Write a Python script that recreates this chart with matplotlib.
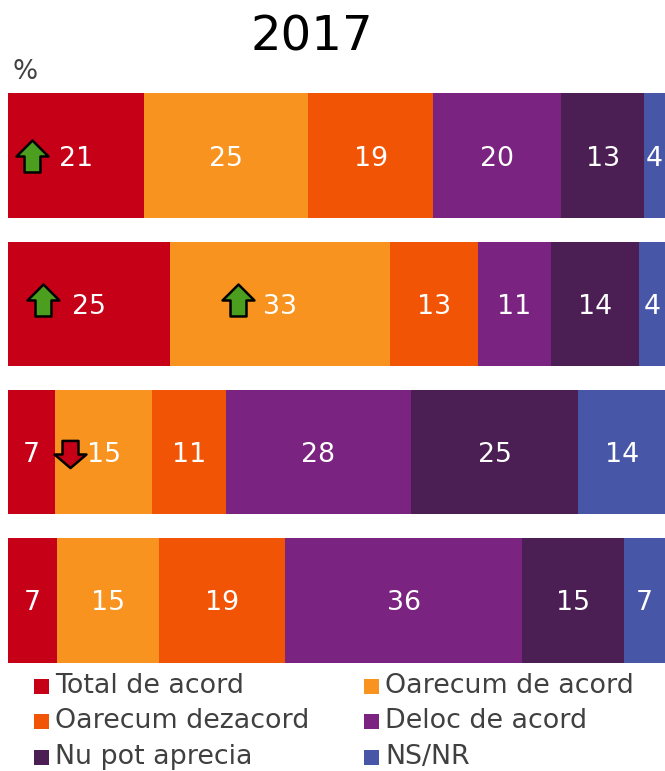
import numpy as np
import matplotlib
matplotlib.use("Agg")
import matplotlib.pyplot as plt
from matplotlib.path import Path
from matplotlib.transforms import offset_copy

series_names = ["Total de acord", "Oarecum de acord", "Oarecum dezacord",
                "Deloc de acord", "Nu pot aprecia", "NS/NR"]
colors = ["#C50017", "#F7931E", "#F25406", "#7B2380", "#4C1F54", "#4756A6"]
# segment lengths (%)
total_acord = [20.7, 24.7, 7.2, 7.5]
oarecum_acord = [25.0, 33.5, 14.8, 15.5]
oarecum_dezacord = [19.0, 13.4, 11.2, 19.2]
deloc_acord = [19.5, 11.1, 28.2, 36.1]
nu_pot = [12.6, 13.4, 25.5, 15.5]
ns_nr = [3.2, 4.0, 13.2, 6.2]
# printed labels
lab_total_acord = [21, 25, 7, 7]
lab_oarecum_acord = [25, 33, 15, 15]
lab_oarecum_dezacord = [19, 13, 11, 19]
lab_deloc_acord = [20, 11, 28, 36]
lab_nu_pot = [13, 14, 25, 15]
lab_ns_nr = [4, 4, 14, 7]
title = "2017"
unit = "%"
# (row, series, direction)
arrow_marks = [(0, 0, 1), (1, 0, 1), (1, 1, 1), (2, 1, -1)]
arrow_offsets_px = [(-44, 0), (-46, 4), (-42, 4), (-34, -2)]

W, H = 665, 771
fig = plt.figure(figsize=(W / 100, H / 100), dpi=100)
ax = fig.add_axes([8 / W, 1 - 674.5 / H, (W - 8) / W, 593 / H])
ax.set_xlim(0, 1)
ax.set_ylim(3.5, -0.5)
ax.axis("off")

data = np.array([total_acord, oarecum_acord, oarecum_dezacord, deloc_acord, nu_pot, ns_nr], float)
labels_printed = np.array([lab_total_acord, lab_oarecum_acord, lab_oarecum_dezacord,
                           lab_deloc_acord, lab_nu_pot, lab_ns_nr])
shares = data / data.sum(axis=0)
lefts = np.zeros(4)
centers = np.zeros_like(shares)
rows = np.arange(4)
label_tr = offset_copy(ax.transData, fig=fig, x=0, y=-3, units="dots")
for i, name in enumerate(series_names):
    ax.barh(rows, shares[i], left=lefts, height=124.5 / 148.2, color=colors[i], linewidth=0, label=name)
    centers[i] = lefts + shares[i] / 2
    for r in rows:
        ax.text(centers[i][r], r, f"{labels_printed[i][r]}", color="white", fontsize=19.3,
                ha="center", va="center", transform=label_tr)
    lefts = lefts + shares[i]

up = Path([(0, 1), (1, 0), (0.5, 0), (0.5, -1), (-0.5, -1), (-0.5, 0), (-1, 0), (0, 1)], closed=True)
down = Path([(0, -0.85), (1, 0), (0.5, 0), (0.5, 0.85), (-0.5, 0.85), (-0.5, 0), (-1, 0), (0, -0.85)], closed=True)
for (r, s, d), (ox, oy) in zip(arrow_marks, arrow_offsets_px):
    tr = offset_copy(ax.transData, fig=fig, x=ox, y=oy, units="dots")
    ax.plot([centers[s][r]], [r], marker=up if d > 0 else down, markersize=23,
            markerfacecolor="#4B9E1E" if d > 0 else "#C50017", markeredgecolor="black",
            markeredgewidth=1.8, transform=tr, clip_on=False, linestyle="none", zorder=5)

fig.text(312 / W, 1 - 37 / H, title, fontsize=34.7, ha="center", va="center", color="black")
fig.text(13 / W, 1 - 72 / H, unit, fontsize=19, ha="left", va="center", color="#404040")

handles, labels = ax.get_legend_handles_labels()
for i, (h, lab) in enumerate(zip(handles, labels)):
    col, row = i % 2, i // 2
    xpx = 34 if col == 0 else 364
    ypx = 686 + row * 35.5
    fig.patches.append(plt.Rectangle((xpx / W, 1 - (ypx + 7.5) / H), 15 / W, 15 / H,
                                     transform=fig.transFigure, color=colors[i], linewidth=0))
    fig.text((xpx + 21) / W, 1 - ypx / H, lab, fontsize=19.4, color="#404040", ha="left", va="center")

fig.savefig("out.png", dpi=100)
